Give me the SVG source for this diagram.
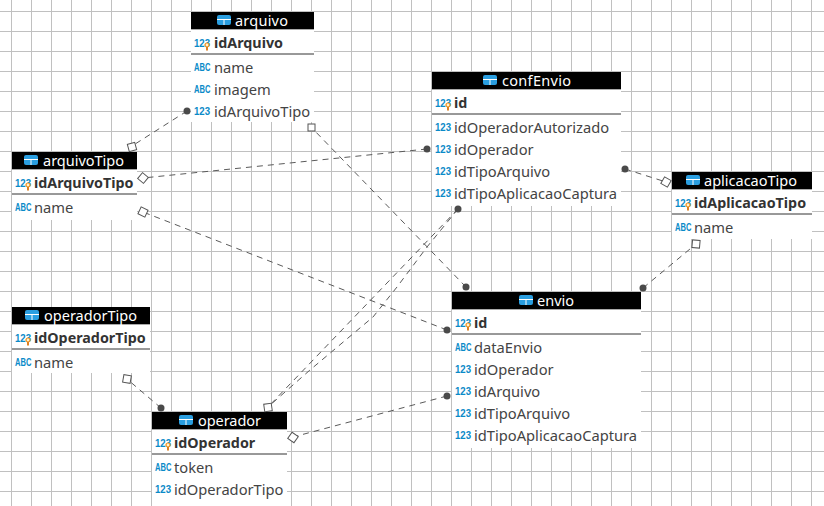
<svg xmlns="http://www.w3.org/2000/svg" width="824" height="506" viewBox="0 0 824 506">
<style>
.h{font:14.5px "Noto Sans",sans-serif;fill:#fff}
.p{font:bold 14.3px "Noto Sans",sans-serif;fill:#333}
.f{font:14.7px "Noto Sans",sans-serif;fill:#444}
.n{font:bold 11.5px "Liberation Sans",sans-serif;fill:#0a8ac8}
.a{font:bold 10px "Liberation Sans",sans-serif;fill:#0a8ac8}
.c line,.c polyline{stroke:#5a5a5a;stroke-width:1;stroke-dasharray:6 5;fill:none}
.c circle{fill:#4a4a4a}
.c rect{fill:#fff;stroke:#555;stroke-width:1}
.sep{stroke:#333;stroke-width:1}
.top{stroke:#aaa;stroke-width:1}
</style>
<defs>
<pattern id="g" width="20" height="20" patternUnits="userSpaceOnUse" x="1" y="1"><path d="M10.5 0V20M0 10.5H20" stroke="#c0c0c0" stroke-width="1"/></pattern>
<g id="ti"><rect width="14" height="10" rx="2" fill="#2a9ee0"/><path d="M0 4.5H14M7 4.5V10" stroke="#fff" stroke-width="1"/></g>
<g id="key"><circle cx="0" cy="-1" r="2" fill="#fff3d0" stroke="#f09020" stroke-width="1.2"/><rect x="-1" y="1" width="2" height="3.5" fill="#e08020"/></g>
</defs>
<rect width="824" height="506" fill="#fff"/>
<rect width="824" height="506" fill="url(#g)"/>
<g id="arquivo"><rect x="191" y="12" width="123" height="110" fill="#fff"/><rect x="191" y="12" width="123" height="17" fill="#000"/><line class="top" x1="191" y1="29.5" x2="314" y2="29.5"/><use href="#ti" x="217" y="15"/><text class="h" x="235" y="26" textLength="53">arquivo</text><text class="n" transform="translate(194 47) scale(.84 1)">123</text><use href="#key" x="207" y="46"/><text class="p" x="214" y="48">idArquivo</text><line class="sep" x1="191" y1="54" x2="314" y2="54"/><text class="a" transform="translate(194 71) scale(.76 1)">ABC</text><text class="f" x="214" y="73">name</text><text class="a" transform="translate(194 93) scale(.76 1)">ABC</text><text class="f" x="214" y="95">imagem</text><text class="n" transform="translate(194 115) scale(.84 1)">123</text><text class="f" x="214" y="117">idArquivoTipo</text></g>
<g id="arquivoTipo"><rect x="12" y="152" width="125" height="68" fill="#fff"/><rect x="12" y="152" width="125" height="17" fill="#000"/><line class="top" x1="12" y1="169.5" x2="137" y2="169.5"/><use href="#ti" x="24" y="155"/><text class="h" x="43" y="166" textLength="81">arquivoTipo</text><text class="n" transform="translate(15 187) scale(.84 1)">123</text><use href="#key" x="28" y="186"/><text class="p" x="34" y="188">idArquivoTipo</text><line class="sep" x1="12" y1="194" x2="137" y2="194"/><text class="a" transform="translate(15 211) scale(.76 1)">ABC</text><text class="f" x="34" y="213">name</text></g>
<g id="confEnvio"><rect x="432" y="72" width="189" height="134" fill="#fff"/><rect x="432" y="72" width="189" height="17" fill="#000"/><line class="top" x1="432" y1="89.5" x2="621" y2="89.5"/><use href="#ti" x="483" y="75"/><text class="h" x="502" y="86" textLength="69">confEnvio</text><text class="n" transform="translate(435 107) scale(.84 1)">123</text><use href="#key" x="448" y="106"/><text class="p" x="454" y="108">id</text><line class="sep" x1="432" y1="114" x2="621" y2="114"/><text class="n" transform="translate(435 131) scale(.84 1)">123</text><text class="f" x="454" y="133">idOperadorAutorizado</text><text class="n" transform="translate(435 153) scale(.84 1)">123</text><text class="f" x="454" y="155">idOperador</text><text class="n" transform="translate(435 175) scale(.84 1)">123</text><text class="f" x="454" y="177">idTipoArquivo</text><text class="n" transform="translate(435 197) scale(.84 1)">123</text><text class="f" x="454" y="199">idTipoAplicacaoCaptura</text></g>
<g id="aplicacaoTipo"><rect x="672" y="172" width="140" height="67" fill="#fff"/><rect x="672" y="172" width="140" height="17" fill="#000"/><line class="top" x1="672" y1="189.5" x2="812" y2="189.5"/><use href="#ti" x="686" y="175"/><text class="h" x="704" y="186" textLength="93">aplicacaoTipo</text><text class="n" transform="translate(675 207) scale(.84 1)">123</text><use href="#key" x="688" y="206"/><text class="p" x="694" y="208">idAplicacaoTipo</text><line class="sep" x1="672" y1="214" x2="812" y2="214"/><text class="a" transform="translate(675 231) scale(.76 1)">ABC</text><text class="f" x="694" y="233">name</text></g>
<g id="operadorTipo"><rect x="12" y="307" width="138" height="66" fill="#fff"/><rect x="12" y="307" width="138" height="17" fill="#000"/><line class="top" x1="12" y1="324.5" x2="150" y2="324.5"/><use href="#ti" x="25" y="310"/><text class="h" x="44" y="321" textLength="93">operadorTipo</text><text class="n" transform="translate(15 342) scale(.84 1)">123</text><use href="#key" x="28" y="341"/><text class="p" x="34" y="343">idOperadorTipo</text><line class="sep" x1="12" y1="349" x2="150" y2="349"/><text class="a" transform="translate(15 366) scale(.76 1)">ABC</text><text class="f" x="34" y="368">name</text></g>
<g id="envio"><rect x="452" y="292" width="189" height="156" fill="#fff"/><rect x="452" y="292" width="189" height="17" fill="#000"/><line class="top" x1="452" y1="309.5" x2="641" y2="309.5"/><use href="#ti" x="519" y="295"/><text class="h" x="537" y="306" textLength="37">envio</text><text class="n" transform="translate(455 327) scale(.84 1)">123</text><use href="#key" x="468" y="326"/><text class="p" x="474" y="328">id</text><line class="sep" x1="452" y1="334" x2="641" y2="334"/><text class="a" transform="translate(455 351) scale(.76 1)">ABC</text><text class="f" x="474" y="353">dataEnvio</text><text class="n" transform="translate(455 373) scale(.84 1)">123</text><text class="f" x="474" y="375">idOperador</text><text class="n" transform="translate(455 395) scale(.84 1)">123</text><text class="f" x="474" y="397">idArquivo</text><text class="n" transform="translate(455 417) scale(.84 1)">123</text><text class="f" x="474" y="419">idTipoArquivo</text><text class="n" transform="translate(455 439) scale(.84 1)">123</text><text class="f" x="474" y="441">idTipoAplicacaoCaptura</text></g>
<g id="operador"><rect x="152" y="412" width="135" height="94" fill="#fff"/><rect x="152" y="412" width="135" height="17" fill="#000"/><line class="top" x1="152" y1="429.5" x2="287" y2="429.5"/><use href="#ti" x="179" y="415"/><text class="h" x="198" y="426" textLength="63">operador</text><text class="n" transform="translate(155 447) scale(.84 1)">123</text><use href="#key" x="168" y="446"/><text class="p" x="174" y="448">idOperador</text><line class="sep" x1="152" y1="454" x2="287" y2="454"/><text class="a" transform="translate(155 471) scale(.76 1)">ABC</text><text class="f" x="174" y="473">token</text><text class="n" transform="translate(155 493) scale(.84 1)">123</text><text class="f" x="174" y="495">idOperadorTipo</text></g>
<g id="connectors" class="c">
<line x1="187" y1="111" x2="132" y2="146"/><circle cx="187" cy="111" r="3.5"/><rect x="-3.8" y="-3.8" width="7.6" height="7.6" transform="translate(132 147) rotate(-15)"/>
<line x1="427" y1="149" x2="143" y2="178"/><circle cx="427" cy="149" r="3.5"/><rect x="-3.8" y="-3.8" width="7.6" height="7.6" transform="translate(143 178) rotate(40)"/>
<line x1="447" y1="330" x2="143" y2="212"/><circle cx="447" cy="330" r="3.5"/><rect x="-3.8" y="-3.8" width="7.6" height="7.6" transform="translate(143 212) rotate(25)"/>
<line x1="466" y1="287" x2="311" y2="127"/><circle cx="466" cy="287" r="3.5"/><rect x="-3.5" y="-3.5" width="7" height="7" transform="translate(311.500 127.500)"/>
<line x1="625" y1="169" x2="666" y2="182"/><circle cx="625" cy="169" r="3.5"/><rect x="-3.8" y="-3.8" width="7.6" height="7.6" transform="translate(666 182) rotate(30)"/>
<line x1="643" y1="288" x2="696" y2="244"/><circle cx="643" cy="288" r="3.5"/><rect x="-3.8" y="-3.8" width="7.6" height="7.6" transform="translate(696 244) rotate(5)"/>
<line x1="161" y1="408" x2="127" y2="379"/><circle cx="161" cy="408" r="3.5"/><rect x="-3.8" y="-3.8" width="7.6" height="7.6" transform="translate(127 379) rotate(10)"/>
<line x1="458" y1="209" x2="268" y2="407"/><polyline points="458,209 427,247 397,287 373,317 310,370 268,407"/><circle cx="458" cy="209" r="3.5"/><rect x="-3.8" y="-3.8" width="7.6" height="7.6" transform="translate(268 407.500) rotate(-8)"/>
<line x1="447" y1="396" x2="293" y2="437"/><circle cx="447" cy="396" r="3.5"/><rect x="-3.8" y="-3.8" width="7.6" height="7.6" transform="translate(293 437.500) rotate(35)"/>
</g>
</svg>
